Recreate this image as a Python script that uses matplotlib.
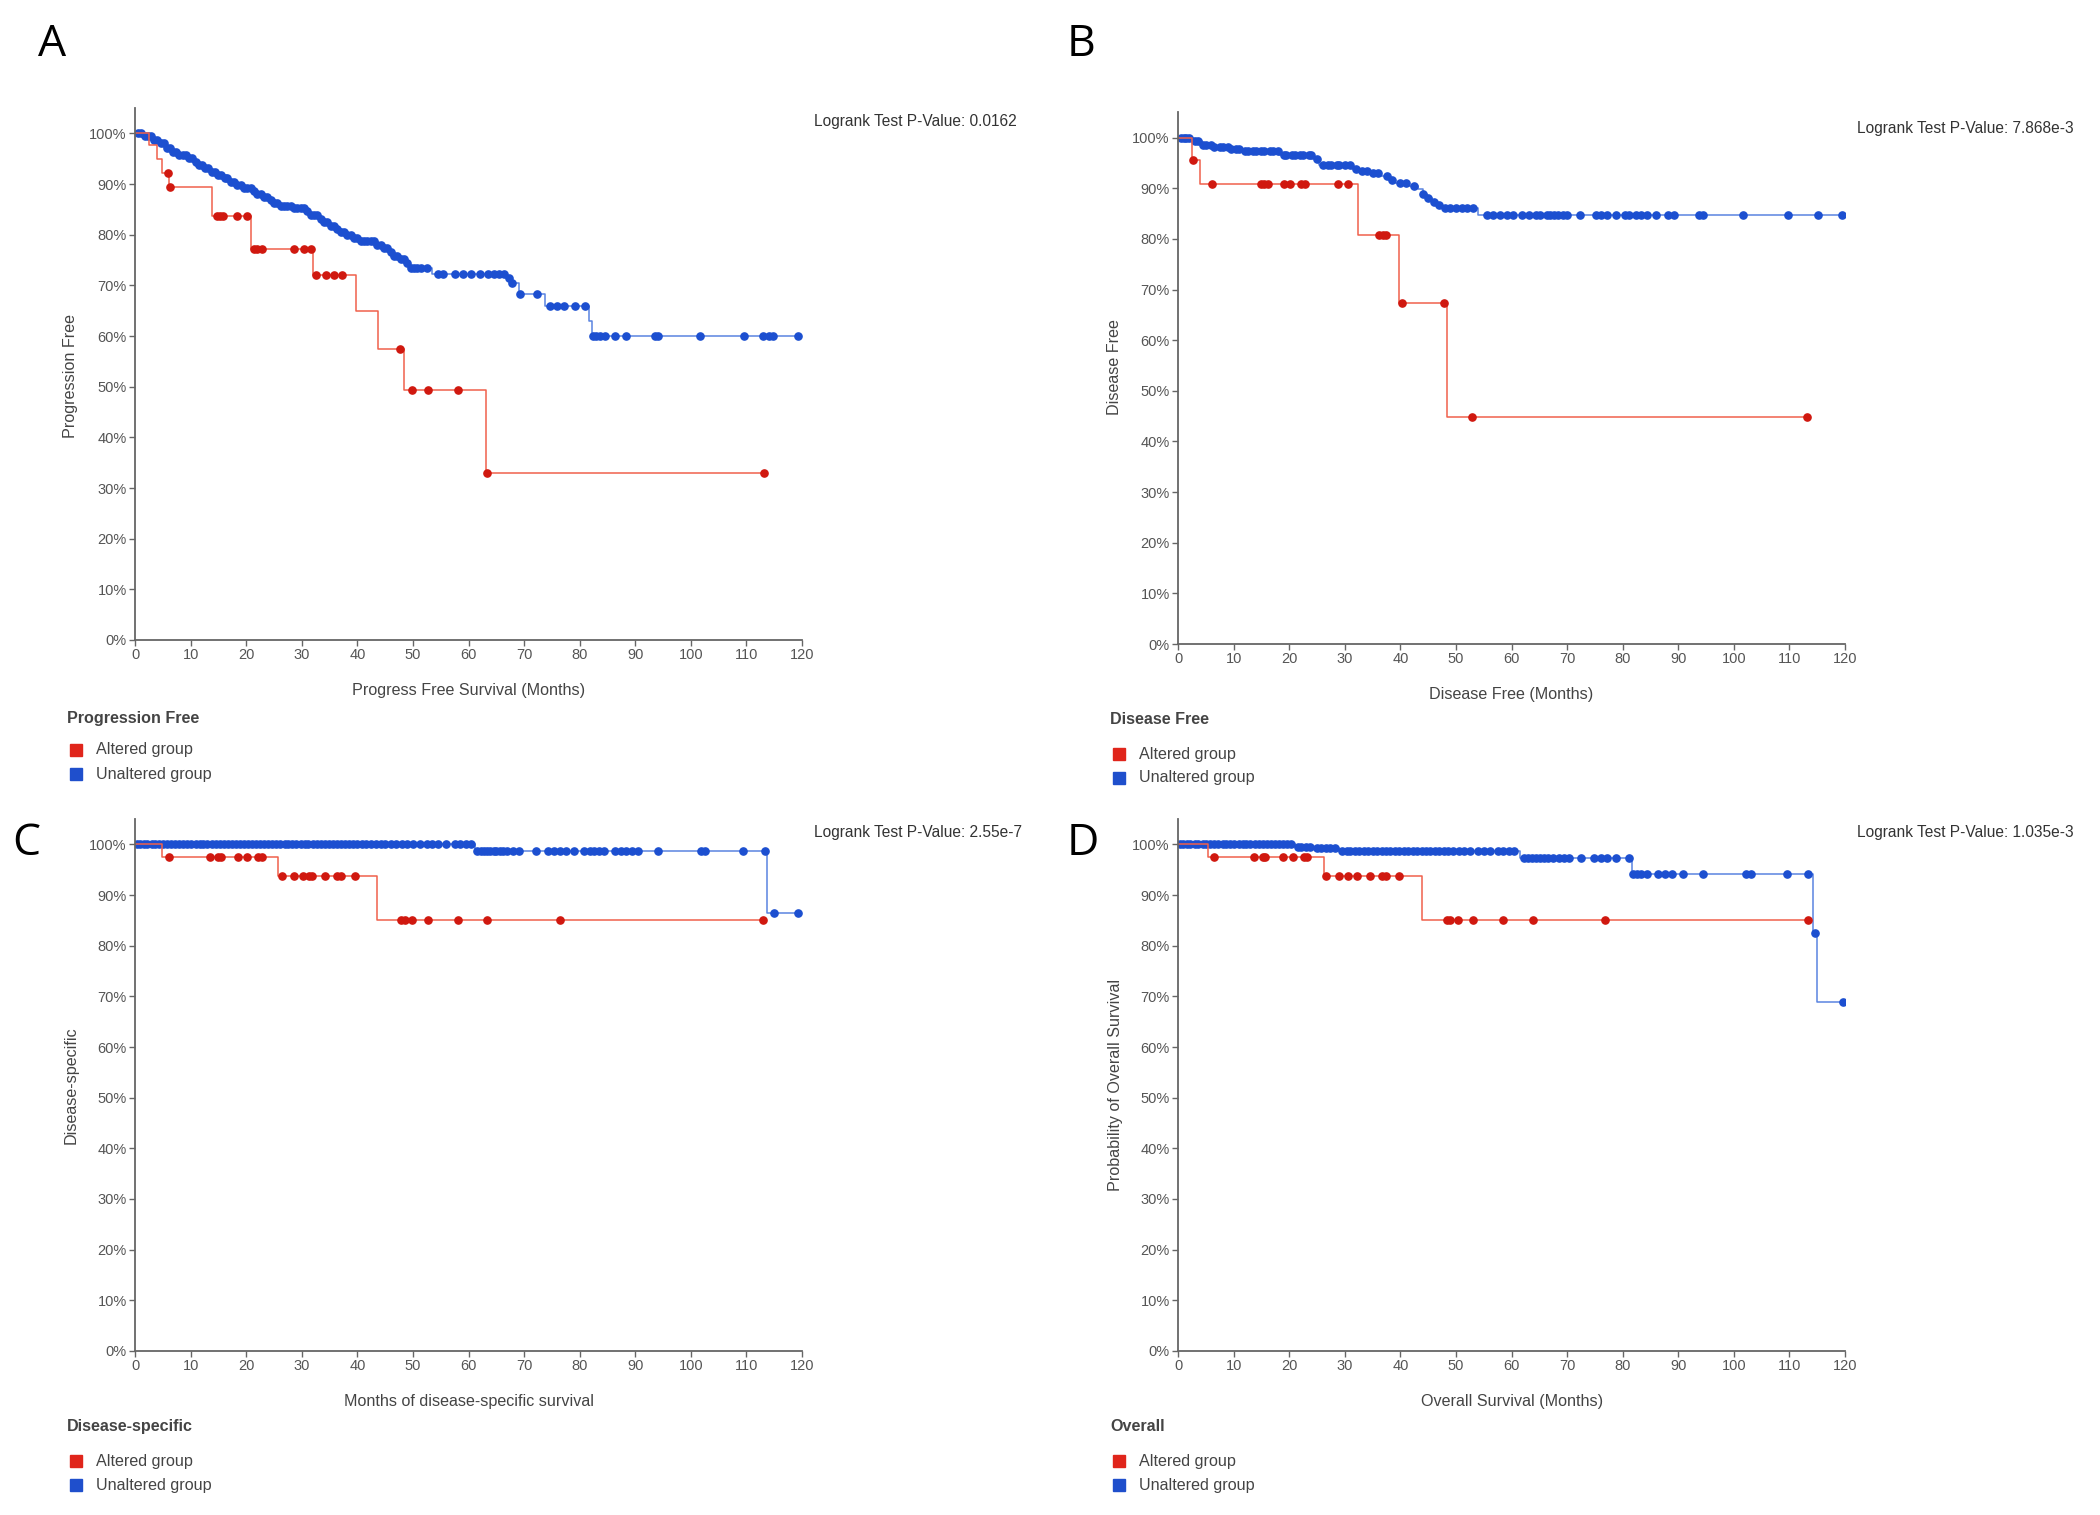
import matplotlib
matplotlib.use('Agg')
import matplotlib.pyplot as plt
from matplotlib.patches import Rectangle
import numpy as np

plt.rcParams['font.family'] = ['Liberation Sans', 'DejaVu Sans']

RED = '#d0180f'
RED_LINE = '#f0604c'
BLUE = '#1c4fd0'
BLUE_LINE = '#5a84e0'
GREY = '#555555'

months_ticks = list(range(0, 121, 10))
pct_ticks = list(range(0, 101, 10))

# A: progression free
a_alt_t = [0, 2.5, 3.9, 4.8, 6.1, 13.9, 20.8, 32.0, 39.8, 43.7, 48.4, 63.2, 113.1]
a_alt_s = [100, 97.8, 94.9, 92.2, 89.5, 83.7, 77.1, 72.0, 64.9, 57.5, 49.3, 32.9, 32.9]
a_alt_c = [5.9, 6.3, 14.7, 15.3, 15.9, 18.3, 20.2, 21.4, 22.0, 22.8, 28.6, 30.4, 31.6,
           32.6, 34.4, 35.8, 37.3, 47.7, 49.9, 52.7, 58.1, 63.3, 113.1]
a_un_t = [0, 1.5, 3, 4.5, 5.5, 6.5, 7.5, 9.5, 10.5, 11.5, 12.5, 13.5, 14.5, 16, 17, 18,
          19.5, 21, 22, 23, 24, 25, 26, 28.5, 30.5, 31.5, 33, 34, 35, 36, 37, 38, 39,
          40.5, 43.5, 44.5, 45.5, 46.5, 47.5, 48.5, 49.5, 53.5, 66.8, 67.5, 69, 73.8,
          81.6, 82.3, 119.3]
a_un_s = [100, 99.5, 98.8, 98.2, 97.2, 96.4, 95.7, 95.1, 94.3, 93.7, 93.1, 92.4, 91.8,
          91.2, 90.5, 89.9, 89.2, 88.6, 88.0, 87.4, 86.8, 86.2, 85.6, 85.2, 84.6, 84.0,
          83.2, 82.5, 81.8, 81.2, 80.6, 80.0, 79.4, 78.7, 78.0, 77.3, 76.6, 75.9, 75.2,
          74.4, 73.4, 72.3, 71.4, 70.5, 68.4, 66.0, 63.0, 60.1, 60.1]
a_un_c = [0.5, 1, 1.8, 2.3, 2.8, 3.4, 4, 4.6, 5.2, 5.8, 6.3, 6.9, 7.4, 8, 8.6, 9.2, 9.8,
          10.3, 10.9, 11.5, 12, 12.6, 13.2, 13.8, 14.3, 14.9, 15.5, 16.1, 16.6, 17.2,
          17.8, 18.4, 19, 19.6, 20.2, 20.8, 21.4, 22, 22.6, 23.2, 23.8, 24.4, 25, 25.6,
          26.2, 26.8, 27.4, 28, 28.6, 29.2, 29.8, 30.4, 31, 31.6, 32.2, 32.8, 33.4, 34,
          34.6, 35.2, 35.8, 36.4, 37, 37.6, 38.2, 38.8, 39.4, 40, 40.6, 41.2, 41.8, 42.4,
          43, 43.6, 44.2, 44.8, 45.4, 46, 46.6, 47.2, 47.8, 48.4, 49, 49.6, 50.2, 50.8,
          51.4, 52.5, 54.5, 55.5, 57.5, 59, 60.5, 62, 63.5, 64.5, 65.5, 66.3, 67.2, 67.8,
          69.3, 72.3, 74.7, 75.9, 77.1, 79.2, 81.0, 82.4, 83.0, 83.7, 84.6, 86.4, 88.3,
          93.5, 94.1, 101.6, 109.6, 113.0, 114.0, 114.8, 119.3]

# B: disease free
b_alt_t = [0, 2.5, 3.9, 32.4, 39.8, 48.3, 113.2]
b_alt_s = [100, 95.5, 90.9, 80.8, 67.3, 44.9, 44.9]
b_alt_c = [2.6, 6.1, 14.9, 15.5, 16.1, 19.0, 20.2, 22.2, 22.9, 28.8, 30.6, 36.2, 36.8,
           37.4, 40.3, 47.9, 52.9, 113.2]
b_un_t = [0, 2.8, 4.3, 6.3, 9.5, 12, 18.2, 24.2, 25.4, 31.2, 33, 34.6, 36.5, 38, 39,
          41.5, 43.1, 44, 44.8, 45.6, 46.5, 47.5, 53.9, 119.4]
b_un_s = [100, 99.3, 98.6, 98.2, 97.8, 97.3, 96.5, 95.7, 94.5, 93.8, 93.4, 93.0, 92.4,
          91.7, 91.1, 90.4, 89.8, 88.9, 88.0, 87.3, 86.6, 86.1, 84.8, 84.8]
b_un_c = [0.5, 1, 1.5, 2, 3, 3.5, 4.5, 5, 6, 6.5, 7.5, 8, 9, 9.5, 10.5, 11, 12, 12.5,
          13.5, 14, 15, 15.5, 16.5, 17, 18, 19, 19.5, 20.5, 21, 22, 22.5, 23.5, 24, 25,
          26, 27, 27.5, 28.5, 29, 30, 31, 32, 33, 34, 35, 36, 37.5, 38.5, 40, 41, 42.5,
          44, 45, 46, 47, 48, 49, 50, 51, 52, 53, 55.5, 56.7, 57.9, 59.1, 60.3, 61.9,
          63.1, 64.4, 65.2, 66.4, 66.9, 67.6, 68.4, 69.2, 70.0, 72.4, 75.2, 76.0, 77.2,
          78.8, 80.4, 81.2, 82.4, 83.2, 84.4, 86.0, 88.1, 89.3, 93.7, 94.5, 101.7,
          109.8, 115.1, 119.4]

# C: disease-specific
c_alt_t = [0, 4.9, 25.8, 43.5, 113.0]
c_alt_s = [100, 97.5, 93.7, 85.0, 85.0]
c_alt_c = [6.1, 13.4, 14.9, 15.4, 18.6, 20.2, 22.2, 22.8, 26.4, 28.6, 30.2, 31.3, 31.8,
           34.2, 36.3, 37.1, 39.5, 47.9, 48.6, 49.9, 52.7, 58.1, 63.4, 76.4, 113.0]
c_un_t = [0, 61.1, 113.7, 119.3]
c_un_s = [100, 98.8, 86.5, 86.5]
c_un_c = [0.3, 0.9, 1.6, 2.2, 3, 3.6, 4.4, 5, 5.8, 6.5, 7.2, 8, 8.7, 9.4, 10.1, 10.9, 11.6,
          12.3, 13, 13.8, 14.5, 15.2, 16, 16.7, 17.4, 18.1, 18.9, 19.6, 20.3, 21, 21.8,
          22.5, 23.2, 24, 24.7, 25.4, 26.1, 26.9, 27.6, 28.3, 29, 29.8, 30.5, 31.2, 32,
          32.7, 33.4, 34.1, 34.9, 35.6, 36.3, 37, 37.8, 38.5, 39.2, 40, 40.8, 41.6, 42.5,
          43.4, 44.2, 45, 46, 47, 48, 49, 50, 51.2, 52.5, 53.5, 54.5, 56, 57.5, 58.5,
          59.5, 60.5, 61.6, 62.2, 62.8, 63.3, 63.9, 64.5, 65, 65.6, 66.2, 67, 68, 69,
          72.1, 74.3, 75.4, 76.5, 77.6, 79, 80.8, 81.8, 82.6, 83.4, 84.4, 86.4, 87.4,
          88.4, 89.4, 90.5, 94.1, 101.8, 102.6, 109.3, 113.3, 114.9, 119.3]

# D: overall
d_alt_t = [0, 5.3, 26.2, 43.9, 113.4]
d_alt_s = [100, 97.5, 93.7, 85.0, 85.0]
d_alt_c = [6.5, 13.7, 15.2, 15.7, 18.9, 20.6, 22.6, 23.2, 26.7, 29.0, 30.6, 32.2, 34.6,
           36.6, 37.4, 39.8, 48.3, 49.0, 50.3, 53.1, 58.5, 63.8, 76.8, 113.4]
d_un_t = [0, 21.0, 24.5, 29.0, 61.5, 81.6, 114.2, 115.0, 119.6]
d_un_s = [100, 99.6, 99.3, 98.8, 97.4, 94.2, 82.5, 68.8, 68.8]
d_un_c = [0.3, 0.9, 1.6, 2.2, 3, 3.6, 4.4, 5, 5.8, 6.5, 7.2, 8, 8.7, 9.4, 10.1, 10.9, 11.6,
          12.3, 13, 13.8, 14.5, 15.2, 16, 16.7, 17.4, 18.1, 18.9, 19.6, 20.3, 21.5, 22.2,
          23, 23.8, 25, 25.8, 26.6, 27.4, 28.2, 29.5, 30.3, 31, 31.8, 32.6, 33.4, 34.2,
          35, 35.8, 36.6, 37.4, 38.2, 39, 39.8, 40.6, 41.4, 42.2, 43, 43.8, 44.6, 45.4,
          46.2, 47, 47.8, 48.6, 49.4, 50.5, 51.5, 52.5, 54, 55, 56.2, 57.5, 58.5, 59.5,
          60.5, 62.3, 63, 63.7, 64.4, 65.1, 65.8, 66.5, 67.5, 68.5, 69.5, 70.4, 72.5,
          74.8, 76.0, 77.2, 78.8, 81.2, 81.9, 82.6, 83.3, 84.4, 86.4, 87.6, 88.8, 90.9,
          94.5, 102.1, 103.1, 109.5, 113.4, 114.6, 119.6]

panels = [
    dict(letter='A', left=0.0643, bottom=0.5776, pval='Logrank Test P-Value: 0.0162',
         ylabel='Progression Free', xlabel='Progress Free Survival (Months)',
         title='Progression Free',
         alt=(a_alt_t, a_alt_s, a_alt_c), un=(a_un_t, a_un_s, a_un_c)),
    dict(letter='B', left=0.561, bottom=0.5749, pval='Logrank Test P-Value: 7.868e-3',
         ylabel='Disease Free', xlabel='Disease Free (Months)',
         title='Disease Free',
         alt=(b_alt_t, b_alt_s, b_alt_c), un=(b_un_t, b_un_s, b_un_c)),
    dict(letter='C', left=0.0643, bottom=0.1083, pval='Logrank Test P-Value: 2.55e-7',
         ylabel='Disease-specific', xlabel='Months of disease-specific survival',
         title='Disease-specific',
         alt=(c_alt_t, c_alt_s, c_alt_c), un=(c_un_t, c_un_s, c_un_c)),
    dict(letter='D', left=0.561, bottom=0.1083, pval='Logrank Test P-Value: 1.035e-3',
         ylabel='Probability of Overall Survival', xlabel='Overall Survival (Months)',
         title='Overall',
         alt=(d_alt_t, d_alt_s, d_alt_c), un=(d_un_t, d_un_s, d_un_c)),
]

# figure-fraction positions of the surrounding texts
letter_pos = {'A': (0.018, 0.9705), 'B': (0.508, 0.9705), 'C': (0.0057, 0.4432), 'D': (0.508, 0.4432)}
pval_pos = {'A': (0.3876, 0.9195), 'B': (0.8843, 0.9149), 'C': (0.3876, 0.4502), 'D': (0.8843, 0.4502)}
ylab_pos = {'A': (0.0338, 0.7518), 'B': (0.5305, 0.7578), 'C': (0.0338, 0.2838), 'D': (0.531, 0.2838)}
xlab_y = {'A': 0.5439, 'B': 0.5413, 'C': 0.0746, 'D': 0.0746}
legend_pos = {'A': (0.0319, 0.526, 0.505, 0.4891), 'B': (0.5286, 0.5248, 0.5023, 0.4865),
              'C': (0.0319, 0.0581, 0.0356, 0.0198), 'D': (0.5286, 0.0581, 0.0356, 0.0198)}


def censor_y(t, s, c):
    idx = np.searchsorted(t, c, side='right') - 1
    return np.array(s)[idx]


def draw_curve(ax, t, s, c, line_color, mark_color, z):
    ax.step(t, s, where='post', color=line_color, lw=1.1, zorder=z)
    ax.plot(c, censor_y(t, s, c), 'o', ms=5.2, color=mark_color, mec=mark_color, zorder=z + 1)


fig = plt.figure(figsize=(21, 15.15), dpi=100)
W = 0.3176
H = 0.3510

for p in panels:
    ax = fig.add_axes([p['left'], p['bottom'], W, H])
    draw_curve(ax, *p['un'], BLUE_LINE, BLUE, 2)
    draw_curve(ax, *p['alt'], RED_LINE, RED, 4)

    ax.set_xlim(0, 120)
    ax.set_ylim(0, 105)
    ax.set_xticks(months_ticks)
    ax.set_yticks(pct_ticks)
    ax.set_yticklabels([f'{v}%' for v in pct_ticks])
    for side in ['top', 'right']:
        ax.spines[side].set_visible(False)
    for side in ['left', 'bottom']:
        ax.spines[side].set_color('#666666')
        ax.spines[side].set_linewidth(1.3)
    ax.tick_params(direction='out', length=4, width=1, color='#666666',
                   labelcolor=GREY, labelsize=10.5, pad=2)
    for sp in ax.spines.values():
        sp.set_zorder(6)

    L = p['letter']
    fig.text(*letter_pos[L], L, fontsize=32, family=['Open Sans', 'DejaVu Sans'],
             ha='left', va='center', color='black')
    fig.text(*pval_pos[L], p['pval'], fontsize=11.2, color='#333333', ha='left', va='center')
    fig.text(*ylab_pos[L], p['ylabel'], fontsize=11.6, color='#444444', rotation=90,
             ha='center', va='center')
    fig.text(p['left'] + W / 2, xlab_y[L], p['xlabel'], fontsize=11.6, color='#444444',
             ha='center', va='center')

    lx, ty, y1, y2 = legend_pos[L]
    fig.text(lx, ty, p['title'], fontsize=11.6, fontweight='bold', color='#444444',
             ha='left', va='center')
    sq_w = 12 / 2100
    sq_h = 12 / 1515
    for yy, col, lab in [(y1, '#e0251b', 'Altered group'), (y2, '#1f4fcc', 'Unaltered group')]:
        fig.add_artist(Rectangle((lx + 3 / 2100, yy - sq_h / 2), sq_w, sq_h,
                                 transform=fig.transFigure, color=col))
        fig.text(lx + 29 / 2100, yy, lab, fontsize=11.6, color='#444444',
                 ha='left', va='center')

fig.savefig('out.png', dpi=100)
